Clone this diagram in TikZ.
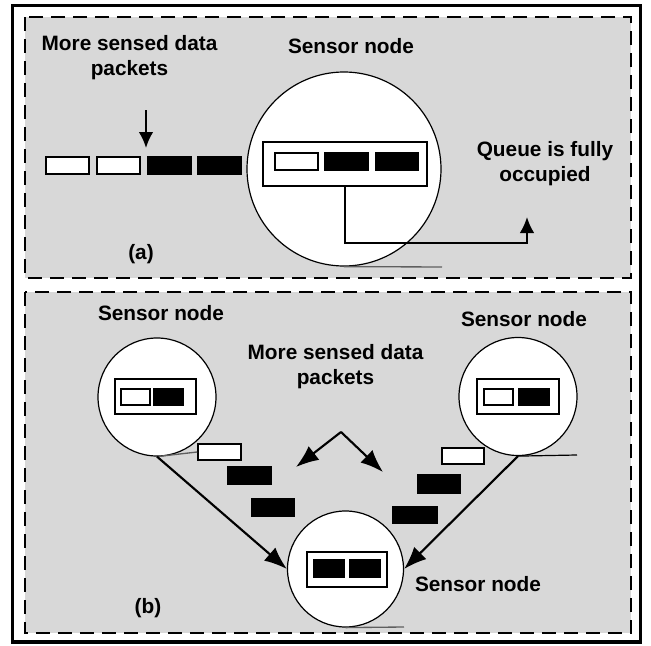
\documentclass[tikz,border=0pt]{standalone}
\usepackage{fontspec}
\setmainfont{Liberation Sans}
\usetikzlibrary{arrows.meta}
\definecolor{panelgray}{RGB}{216,216,216}
\definecolor{linegray}{RGB}{95,95,95}
\begin{document}
\begin{tikzpicture}[x=0.75pt,y=-0.75pt,
  lbl/.style={font=\fontsize{15.6}{18.4}\selectfont\bfseries, inner sep=0pt, align=center, anchor=base},
  panel/.style={draw, fill=panelgray, line width=2.2pt, dash pattern=on 10.5pt off 6pt},
  snode/.style={circle, draw, fill=white, line width=0.9pt, inner sep=0pt, minimum size=#1*0.75pt},
  queue/.style args={#1x#2}{draw, fill=white, line width=1.3pt, inner sep=0pt, minimum width=#1*0.75pt, minimum height=#2*0.75pt},
  pkt/.style args={#1x#2}{draw, line width=1.2pt, inner sep=0pt, minimum width=#1*0.75pt, minimum height=#2*0.75pt},
  pktw/.style={pkt=#1, fill=white},
  pktb/.style={pkt=#1, fill=black},
  smallarrow/.style={line width=1.6pt, -{Latex[length=12pt,width=11pt]}},
  bigarrow/.style={line width=1.6pt, -{Latex[length=17pt,width=13pt]}},
  tangent/.style={linegray, line width=1pt}
]
\useasboundingbox (0,0) rectangle (651,646);
\fill[white] (0,0) rectangle (651,646);
\draw[line width=2.4pt] (12.5,5.5) rectangle (640.5,642);
\draw[panel] (25,17) rectangle (631,278);
\draw[panel] (25,292) rectangle (631,633);

% ---------- (a) ----------
\node[lbl] (sa) at (351,54) {Sensor node};
\node[lbl] (ma) at (129.5,75.5) {More sensed data\\packets};
\node[lbl] (qlab) at (545,181.5) {Queue is fully\\occupied};
\node[lbl] (la) at (141,259) {(a)};

\node[pktw=43x17] (o1) at (67.5,165.5) {};
\node[pktw=43x17] (o2) at (118.5,165.5) {};
\node[pktb=43x17] (o3) at (169.5,165.5) {};
\node[pktb=43x17] (o4) at (219.5,165.5) {};

\node[snode=194] (ca) at (344,169) {};
\node[queue=164x44] (qa) at (345,164) {};
\node[pktw=43x17] (qa1) at (296.5,161.5) {};
\node[pktb=43x17] (qa2) at (346.5,161.5) {};
\node[pktb=43x17] (qa3) at (397,161.5) {};

\coordinate (da) at (146,110);
\coordinate (db) at (146,148);
\draw[smallarrow] (da) -- (db);

\coordinate (qturn) at (527,243);
\coordinate (qtip) at (527,217);
\draw[smallarrow] (qa.south) |- (qturn) -- (qtip);

\coordinate (caend) at (442,267);
\draw[tangent] (ca.south) -- (caend);

% ---------- (b) ----------
\node[lbl] (sl) at (161,320.5) {Sensor node};
\node[lbl] (sr) at (524,326) {Sensor node};
\node[lbl] (mb) at (335.5,384) {More sensed data\\packets};
\node[lbl] (sb) at (478,591.5) {Sensor node};
\node[lbl] (lb) at (148,613) {(b)};

\node[snode=118] (cl) at (157,397) {};
\node[queue=81x35] (ql) at (155.5,396.5) {};
\node[pktw=29x16] (ql1) at (135.5,397) {};
\node[pktb=29x16] (ql2) at (168.5,397) {};

\node[snode=118] (cr) at (518,396.5) {};
\node[queue=82x35] (qr) at (518,396.5) {};
\node[pktw=29x16] (qr1) at (498.5,397) {};
\node[pktb=30x16] (qr2) at (534,397) {};

\node[snode=116] (cb) at (345.5,569) {};
\node[queue=80x35] (qb) at (347,569.5) {};
\node[pktb=30x17] (qb1) at (329,568.5) {};
\node[pktb=30x17] (qb2) at (365,568.5) {};

\node[pktw=43x16] (bl1) at (219.5,452) {};
\node[pktb=43x17] (bl2) at (249.5,475.5) {};
\node[pktb=42x17] (bl3) at (273,507.5) {};

\node[pktw=42x16] (br1) at (463,456) {};
\node[pktb=42x18] (br2) at (439,484) {};
\node[pktb=44x16] (br3) at (415,515) {};

\draw[tangent] (cl.south) -- (bl1.west);
\coordinate (crend) at (577,455);
\draw[line width=0.9pt] (cr.south) -- (crend);
\coordinate (cbend) at (404,627);
\draw[tangent] (cb.south) -- (cbend);

\draw[bigarrow] (cl.south) -- (cb.west);
\draw[bigarrow] (cr.south) -- (cb.east);

\coordinate (apex) at (341,432);
\coordinate (tipl) at (296,467);
\coordinate (tipr) at (383,472);
\draw[bigarrow] (apex) -- (tipl);
\draw[bigarrow] (apex) -- (tipr);
\end{tikzpicture}
\end{document}
